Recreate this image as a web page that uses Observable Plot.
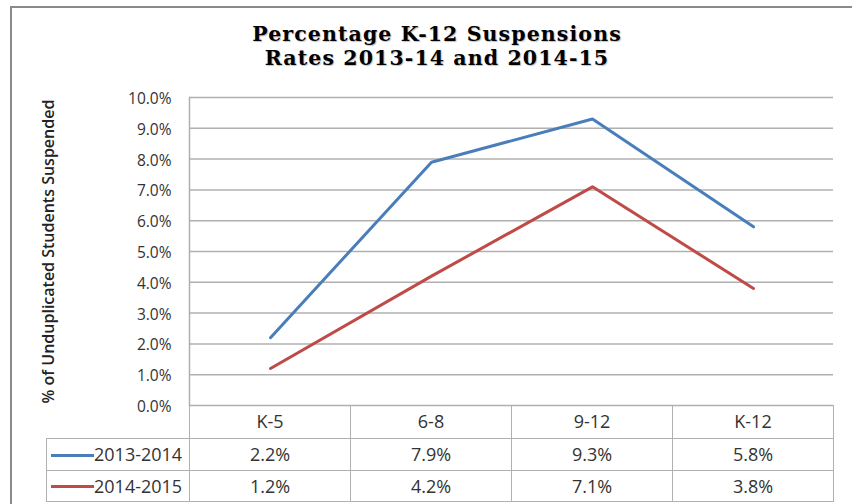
<!DOCTYPE html>
<html><head><meta charset="utf-8">
<script src="https://cdn.jsdelivr.net/npm/d3@7"></script>
<script src="https://cdn.jsdelivr.net/npm/@observablehq/plot@0.6"></script>
<style>
body{margin:0;background:#fff}
#wrap{position:relative;width:852px;height:504px;overflow:hidden;background:#fff}
#frame{position:absolute;left:10px;top:6px;width:900px;height:600px;border-left:2px solid #8a8a8a;border-top:2px solid #8a8a8a}
#title{position:absolute;left:137px;width:600px;top:22px;text-align:center;font-family:"DejaVu Serif";font-weight:bold;font-size:20.5px;letter-spacing:1.1px;line-height:24px;color:#000;text-shadow:1px 1px 1px rgba(0,0,0,0.25)}
#title div{height:24px}
#chart{position:absolute;left:0;top:0}
#tbl{position:absolute;left:46px;top:405px;border-collapse:collapse;table-layout:fixed;font-family:"Open Sans";font-size:18px;color:#333}
#tbl td{border:1px solid #b0b0b0;padding:0;text-align:center;white-space:nowrap;line-height:1}
#tbl td.leg{text-align:left;padding-left:4px}
.sw{display:inline-block;width:43px;height:3px;vertical-align:middle;margin-top:-2px}
</style></head><body>
<div id="wrap"><div id="frame"></div><div id="chart"></div><div id="title"></div><table id="tbl"></table></div>
<script>
const categories = ["K-5", "6-8", "9-12", "K-12"];
const series = ["2013-2014", "2014-2015"];
const values2013 = [0.022, 0.079, 0.093, 0.058];
const values2014 = [0.012, 0.042, 0.071, 0.038];
const yTicks = [0, 0.01, 0.02, 0.03, 0.04, 0.05, 0.06, 0.07, 0.08, 0.09, 0.10];
const colors = ["#4a7ebb", "#be4b48"];
const titleLines = ["Percentage K-12 Suspensions", "Rates 2013-14 and 2014-15"];
const yLabel = "% of Unduplicated Students Suspended";

const seriesValues = [values2013, values2014];
const data = series.flatMap((s, i) => categories.map((c, j) => ({series: s, cat: c, value: seriesValues[i][j]})));
const pct = d3.format(".1%");

const chart = Plot.plot({
  width: 852, height: 504,
  marginLeft: 189, marginRight: 19, marginTop: 97, marginBottom: 99,
  style: {fontFamily: "Open Sans", fontSize: "15.5px", color: "#333", background: "transparent", overflow: "visible"},
  x: {type: "point", domain: categories, padding: 0.5, axis: null},
  y: {domain: [0, 0.1], label: null},
  color: {domain: series, range: colors},
  marks: [
    Plot.gridY(yTicks, {stroke: "#b0b0b0", strokeOpacity: 1, strokeWidth: 1.5}),
    Plot.frame({anchor: "left", stroke: "#b0b0b0", strokeWidth: 1.5}),
    Plot.axisY(yTicks, {tickSize: 0, tickPadding: 18, tickFormat: pct, label: null, fontSize: 15.5, fill: "#333", dy: 1.5}),
    Plot.line(data, {x: "cat", y: "value", z: "series", stroke: "series", strokeWidth: 3, strokeLinecap: "round", strokeLinejoin: "round"}),
    Plot.text([yLabel], {frameAnchor: "left", dx: -141, rotate: -90, text: d => d, textAnchor: "middle", lineAnchor: "middle", fontSize: 16, fontWeight: 600, fill: "#222"})
  ]
});
document.getElementById("chart").appendChild(chart);

document.getElementById("title").innerHTML = titleLines.map(t => `<div>${t}</div>`).join("");

// data table below the plot, column widths from the x scale
const xs = chart.scale("x");
const step = (xs.range[1] - xs.range[0]) / xs.domain.length;
const legendW = xs.range[0] - 46;
const tbl = document.getElementById("tbl");
let html = `<colgroup><col style="width:${legendW}px">` + categories.map(() => `<col style="width:${step}px">`).join("") + `</colgroup>`;
html += `<tr style="height:33px"><td style="border-left:none;border-top:none"></td>` + categories.map(c => `<td style="border-top:none">${c}</td>`).join("") + `</tr>`;
series.forEach((s, i) => {
  html += `<tr style="height:${i === 0 ? 32 : 31}px"><td class="leg"><span class="sw" style="background:${colors[i]}"></span>${s}</td>` +
    seriesValues[i].map(v => `<td>${pct(v)}</td>`).join("") + `</tr>`;
});
tbl.innerHTML = html;
</script>
</body></html>
